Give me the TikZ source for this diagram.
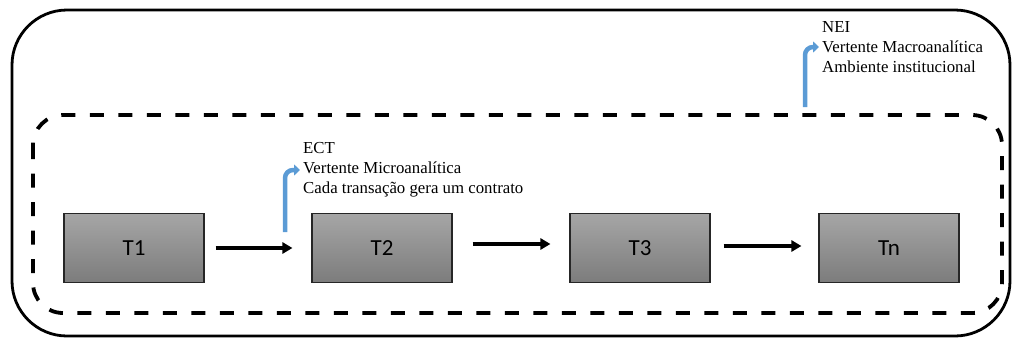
\documentclass[tikz,border=0pt]{standalone}
\usepackage{fontspec}
\setmainfont{Liberation Serif}
\newfontfamily\boxfont{Carlito}
\usetikzlibrary{arrows.meta}
\definecolor{boxtop}{RGB}{166,166,166}
\definecolor{boxbot}{RGB}{124,124,124}
\definecolor{bluearr}{RGB}{91,155,213}
\tikzset{
  tbox/.style={draw=black!85, line width=1.1pt, top color=boxtop, bottom color=boxbot,
    minimum width=140pt, minimum height=69pt, inner sep=0pt, font=\boxfont\fontsize{23}{26}\selectfont},
  flow/.style={line width=3.4pt, -{Triangle[length=10pt,width=11pt]}},
  bluebend/.style={bluearr, line width=4.5pt, rounded corners=8pt, -{Triangle[length=6pt,width=11pt]}},
  note/.style={align=left, inner sep=0pt, font=\fontsize{16.8}{20}\selectfont},
  outerframe/.style={line width=2.8pt, rounded corners=55pt},
  innerframe/.style={line width=3.8pt, rounded corners=30pt, dash pattern=on 14pt off 14.5pt}
}
\begin{document}
\begin{tikzpicture}[x=1pt,y=-1pt]
\useasboundingbox (0,0) rectangle (1013,338);
\draw[outerframe] (12,10) rectangle (1010,336);
\draw[innerframe] (33,115) rectangle (1002,313);
\node[tbox] (t1) at (134,248) {T1};
\node[tbox] (t2) at (382,248) {T2};
\node[tbox] (t3) at (640,248) {T3};
\node[tbox] (tn) at (889,248) {Tn};
\draw[flow, shorten <=11pt, shorten >=19pt] (t1.east) -- (t2.west);
\draw[flow, shorten <=20pt, shorten >=19pt] ([yshift=4pt]t2.east) -- ([yshift=4pt]t3.west);
\draw[flow, shorten <=13pt, shorten >=17pt] ([yshift=2pt]t3.east) -- ([yshift=2pt]tn.west);
\node[note, anchor=west] (ect) at (303,170) {ECT\\Vertente Microanalítica\\Cada transação gera um contrato};
\node[note, anchor=west] (nei) at (822,47) {NEI\\Vertente Macroanalítica\\Ambiente institucional};
\coordinate (b1) at (285,232);
\coordinate (b2) at (805,107);
\draw[bluebend] (b1) |- ([xshift=-3pt]ect.west);
\draw[bluebend] (b2) |- ([xshift=-3pt]nei.west);
\end{tikzpicture}
\end{document}
